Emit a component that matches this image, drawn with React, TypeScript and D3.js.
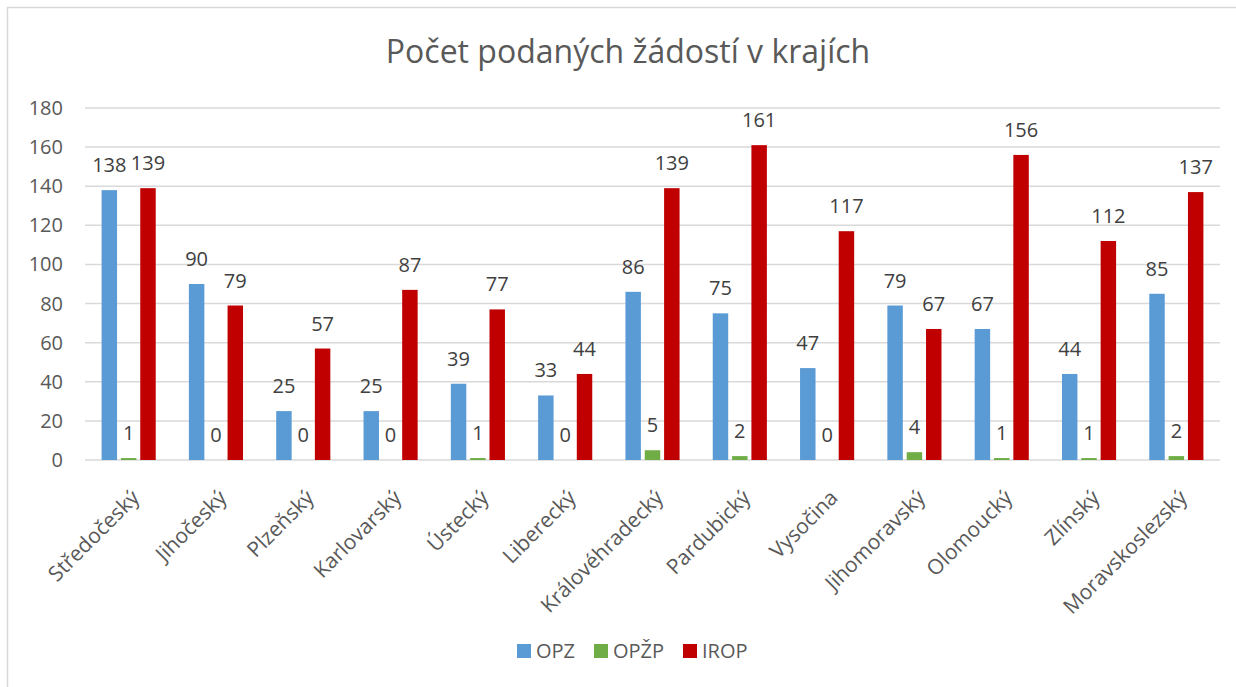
import * as d3 from "d3";
import * as React from "react";

const categories = [
  "Středočeský",
  "Jihočeský",
  "Plzeňský",
  "Karlovarský",
  "Ústecký",
  "Liberecký",
  "Královéhradecký",
  "Pardubický",
  "Vysočina",
  "Jihomoravský",
  "Olomoucký",
  "Zlínský",
  "Moravskoslezský",
];

const opz = [138, 90, 25, 25, 39, 33, 86, 75, 47, 79, 67, 44, 85];
const opzp = [1, 0, 0, 0, 1, 0, 5, 2, 0, 4, 1, 1, 2];
const irop = [139, 79, 57, 87, 77, 44, 139, 161, 117, 67, 156, 112, 137];

const seriesNames = ["OPZ", "OPŽP", "IROP"];
const seriesColors = ["#5b9bd5", "#70ad47", "#c00000"];
const yTicks = [0, 20, 40, 60, 80, 100, 120, 140, 160, 180];

const W = 1236;
const H = 687;
const font = '"Open Sans", sans-serif';

export default function App() {
  const left = 85;
  const right = 1220;
  const top = 108;
  const bottom = 460;

  const seriesValues = [opz, opzp, irop];

  const x0 = d3
    .scaleBand<string>()
    .domain(categories)
    .range([left, right])
    .paddingInner(0.38)
    .paddingOuter(0.19);

  const x1 = d3
    .scaleBand<string>()
    .domain(seriesNames)
    .range([0, x0.bandwidth()])
    .paddingInner(0.2);

  const y = d3.scaleLinear().domain([0, 180]).range([bottom, top]);

  return (
    <svg
      width={W}
      height={H}
      style={{ position: "absolute", left: 0, top: 0, background: "#fff" }}
      fontFamily={font}
    >
      <rect x={0} y={0} width={W} height={H} fill="#fff" />
      <rect
        x={7.5}
        y={7.5}
        width={W + 20}
        height={H + 20}
        fill="none"
        stroke="#d9d9d9"
        strokeWidth={1.5}
      />

      <text x={628} y={63} textAnchor="middle" fontSize={32} fill="#595959">
        Počet podaných žádostí v krajích
      </text>

      {/* gridlines + y labels */}
      {yTicks.map((t) => (
        <g key={t}>
          <line
            x1={left}
            x2={right}
            y1={y(t)}
            y2={y(t)}
            stroke="#d9d9d9"
            strokeWidth={1.5}
          />
          <text
            x={63}
            y={y(t)}
            dy="0.35em"
            textAnchor="end"
            fontSize={20}
            fill="#595959"
          >
            {t}
          </text>
        </g>
      ))}

      {/* bars */}
      {categories.map((c, ci) => (
        <g key={c}>
          {seriesNames.map((s, si) => {
            const v = seriesValues[si][ci];
            const bx = x0(c)! + x1(s)!;
            return (
              <g key={s}>
                <rect
                  x={bx}
                  y={y(v)}
                  width={x1.bandwidth()}
                  height={bottom - y(v)}
                  fill={seriesColors[si]}
                />
                <text
                  x={bx + x1.bandwidth() / 2}
                  y={y(v) - 18}
                  textAnchor="middle"
                  fontSize={20}
                  fill="#404040"
                >
                  {v}
                </text>
              </g>
            );
          })}
          <text
            transform={`translate(${x0(c)! + x0.bandwidth() / 2 + 12}, ${bottom + 39}) rotate(-45)`}
            textAnchor="end"
            fontSize={21}
            fill="#595959"
          >
            {c}
          </text>
        </g>
      ))}

      {/* legend */}
      {seriesNames.map((s, i) => {
        const lx = [517, 594, 683][i];
        return (
          <g key={s} transform={`translate(${lx}, 644)`}>
            <rect width={14} height={14} fill={seriesColors[i]} />
            <text x={19} y={7} dy="0.35em" fontSize={20} fill="#595959">
              {s}
            </text>
          </g>
        );
      })}
    </svg>
  );
}
